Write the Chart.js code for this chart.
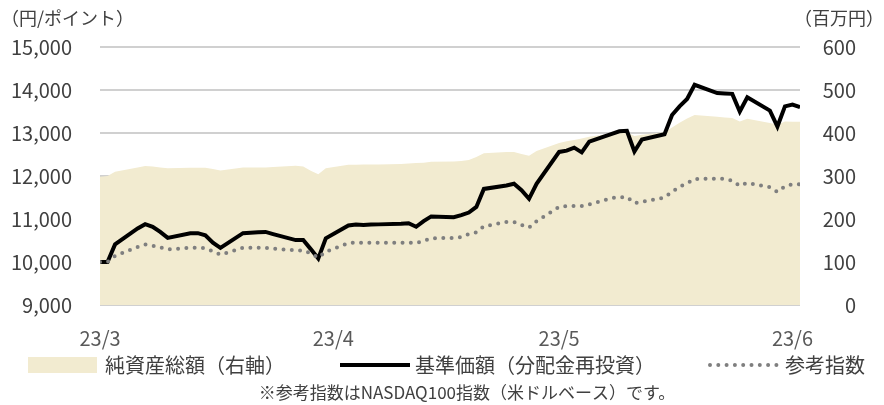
<!DOCTYPE html>
<html>
<head>
<meta charset="utf-8">
<script src="https://cdn.jsdelivr.net/npm/chart.js@4.4.1/dist/chart.umd.min.js"></script>
<style>
  html, body { margin: 0; background: #fff; }
  #wrap { width: 884px; height: 405px; }
</style>
</head>
<body>
<div id="wrap"><canvas id="chart" width="884" height="405"></canvas></div>
<script>
// weekday dates, 2023
const dates = [
  '03/01','03/02','03/03','03/06','03/07','03/08','03/09','03/10','03/13','03/14','03/15','03/16','03/17',
  '03/20','03/21','03/22','03/23','03/24','03/27','03/28','03/29','03/30','03/31',
  '04/03','04/04','04/05','04/06','04/07','04/10','04/11','04/12','04/13','04/14','04/17','04/18','04/19',
  '04/20','04/21','04/24','04/25','04/26','04/27','04/28',
  '05/01','05/02','05/03','05/04','05/05','05/08','05/09','05/10','05/11','05/12','05/15','05/16','05/17',
  '05/18','05/19','05/22','05/23','05/24','05/25','05/26','05/29','05/30','05/31',
  '06/01','06/02'
];
// 基準価額（分配金再投資） 円
const navValues = [
  10000,10000,10410,10780,10880,10820,10700,10560,10670,10670,10620,10450,10330,
  10670,10680,10690,10700,10650,10510,10510,10300,10080,10550,
  10850,10870,10860,10870,10875,10890,10900,10820,10950,11060,11040,11090,11150,
  11280,11700,11780,11820,11670,11470,11820,
  12560,12590,12660,12550,12800,12980,13040,13050,12570,12850,12970,13420,13620,
  13790,14120,13930,13920,13910,13500,13830,13520,13150,13620,
  13660,13600
];
// 参考指数 ポイント
const indexValues = [
  10000,10000,10140,10350,10410,10380,10340,10290,10330,10330,10320,10250,10170,
  10330,10330,10330,10330,10310,10270,10270,10200,10100,10240,
  10440,10450,10450,10450,10450,10450,10450,10440,10490,10550,10560,10580,10650,
  10690,10830,10930,10930,10860,10800,10950,
  11280,11300,11300,11300,11340,11490,11500,11510,11370,11400,11500,11630,11750,
  11830,11930,11940,11930,11890,11770,11840,11740,11630,11760,
  11810,11810
];
// 純資産総額 百万円
const assetValues = [
  298,300,310,320,323,322,320,318,319,319,319,316,313,
  320,320,320,320,321,324,322,312,304,318,
  326,326,327,327,327,328,329,330,331,333,334,335,337,
  344,353,356,356,351,347,358,
  377,381,384,387,391,399,402,401,393,396,402,413,424,
  434,442,438,436,435,427,433,423,419,427,
  426,426
];
const seriesNames = ['純資産総額（右軸）', '基準価額（分配金再投資）', '参考指数'];
const tickDates = ['03/01', '04/01', '05/01', '06/01'];
const tickLabels = ['23/3', '23/4', '23/5', '23/6'];
const leftUnit = '（円/ポイント）';
const rightUnit = '（百万円）';
const note = '※参考指数はNASDAQ100指数（米ドルベース）です。';

const FONT = '"Noto Sans CJK JP", "Noto Sans", sans-serif';
Chart.defaults.font.family = FONT;

// day offset from the first date
const dayOf = (s) => {
  const [m, d] = s.split('/').map(Number);
  return (Date.UTC(2023, m - 1, d) - Date.UTC(2023, 2, 1)) / 86400000;
};
const xs = dates.map(dayOf);
const tickDays = tickDates.map(dayOf);
const pts = (arr) => arr.map((v, i) => ({ x: xs[i], y: v }));

const legendX = [28, 340, 710];

// unit labels, legend and footnote
const extras = {
  id: 'extras',
  afterDraw(chart) {
    const ctx = chart.ctx;
    ctx.save();
    ctx.fillStyle = '#404040';
    ctx.textBaseline = 'middle';
    ctx.font = '18px ' + FONT;
    ctx.textAlign = 'left';
    ctx.fillText(leftUnit, 1, 18);
    ctx.textAlign = 'right';
    ctx.fillText(rightUnit, 884, 18);

    const ly = 365;
    chart.data.datasets.forEach((ds, i) => {
      const x = legendX[i];
      if (ds.fill) {
        ctx.fillStyle = ds.backgroundColor;
        ctx.fillRect(x, ly - 8, 69, 16);
      } else {
        ctx.strokeStyle = ds.borderColor;
        ctx.lineWidth = ds.borderWidth;
        ctx.lineCap = ds.borderCapStyle || 'butt';
        ctx.setLineDash(ds.borderDash || []);
        ctx.beginPath();
        ctx.moveTo(x, ly);
        ctx.lineTo(x + 70, ly);
        ctx.stroke();
        ctx.setLineDash([]);
      }
      ctx.fillStyle = '#404040';
      ctx.font = '20px ' + FONT;
      ctx.textAlign = 'left';
      ctx.fillText(ds.label, x + (ds.fill ? 77 : 75), ly);
    });

    ctx.font = '17px ' + FONT;
    ctx.textAlign = 'center';
    ctx.fillText(note, 467, 393);
    ctx.restore();
  }
};

new Chart(document.getElementById('chart'), {
  type: 'line',
  data: {
    datasets: [
      {
        label: seriesNames[0], data: pts(assetValues), yAxisID: 'y1',
        fill: 'origin', backgroundColor: '#F2EBD0', borderWidth: 0,
        pointRadius: 0, order: 2
      },
      {
        label: seriesNames[1], data: pts(navValues), yAxisID: 'y',
        borderColor: '#000000', borderWidth: 4, pointRadius: 0, order: 1
      },
      {
        label: seriesNames[2], data: pts(indexValues), yAxisID: 'y',
        borderColor: '#7F7F7F', borderWidth: 4, borderDash: [0, 8.3],
        borderCapStyle: 'round', pointRadius: 0, order: 0
      }
    ]
  },
  options: {
    responsive: false,
    animation: false,
    layout: { padding: { left: 0, right: 28, top: 47, bottom: 0 } },
    plugins: { legend: { display: false }, tooltip: { enabled: false } },
    scales: {
      x: {
        type: 'linear', min: xs[0], max: xs[xs.length - 1],
        afterBuildTicks: (s) => { s.ticks = tickDays.map(v => ({ value: v })); },
        afterFit: (s) => { s.height = 100; },
        grid: { display: false },
        border: { display: false },
        ticks: {
          autoSkip: false, maxRotation: 0, padding: 13,
          color: '#595959', font: { size: 20 },
          callback: (v) => tickLabels[tickDays.indexOf(v)]
        }
      },
      y: {
        position: 'left', min: 9000, max: 15000,
        afterFit: (s) => { s.width = 100; },
        grid: { color: '#D0D0D0', lineWidth: 2, drawTicks: false },
        border: { display: false },
        ticks: {
          stepSize: 1000, padding: 28, color: '#404040', font: { size: 20 },
          callback: (v) => v.toLocaleString('en-US')
        }
      },
      y1: {
        position: 'right', min: 0, max: 600,
        afterFit: (s) => { s.width = 56; },
        grid: { display: false },
        border: { display: false },
        ticks: { stepSize: 100, crossAlign: 'far', color: '#404040', font: { size: 20 } }
      }
    }
  },
  plugins: [extras]
});
</script>
</body>
</html>
